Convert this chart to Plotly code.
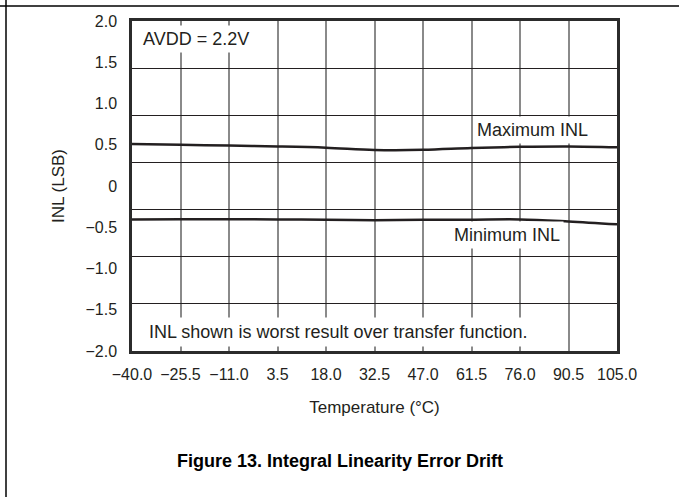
import plotly.graph_objects as go

# ---- data ----
temps = [-40.0, -25.5, -11.0, 3.5, 18.0, 32.5, 47.0, 61.5, 76.0, 90.5, 105.0]
max_inl = [0.51, 0.50, 0.49, 0.48, 0.465, 0.437, 0.438, 0.46, 0.475, 0.48, 0.47]
min_inl = [-0.405, -0.403, -0.403, -0.405, -0.41, -0.415, -0.41, -0.408, -0.405, -0.43, -0.465]

x_tickvals = [-40.0, -25.5, -11.0, 3.5, 18.0, 32.5, 47.0, 61.5, 76.0, 90.5, 105.0]
x_ticktext = ["\u221240.0", "\u221225.5", "\u221211.0", "3.5", "18.0", "32.5", "47.0", "61.5", "76.0", "90.5", "105.0"]
y_tickvals = [2.0, 1.5, 1.0, 0.5, 0.0, -0.5, -1.0, -1.5, -2.0]
y_ticktext = ["2.0", "1.5", "1.0", "0.5", "0", "\u22120.5", "\u22121.0", "\u22121.5", "\u22122.0"]
# the printed grid has 7 equal horizontal divisions (independent of the labels)
grid_rows = [1, 2, 3, 4, 5, 6]

W, H = 679, 497
ML, MR, MT, MB = 132, 62, 21, 146
PW, PH = W - ML - MR, H - MT - MB


def px_x(p):
    return (p - ML) / PW


def px_y(p):
    return (H - MB - p) / PH


FONT = "Liberation Sans, Arial, sans-serif"
TXT = "#231f20"

fig = go.Figure()
# carrier for the 7-division horizontal grid (no visible marks)
fig.add_trace(go.Scatter(x=[None], y=[None], yaxis="y2", mode="lines",
                         showlegend=False, hoverinfo="skip"))
fig.add_trace(go.Scatter(x=temps, y=max_inl, mode="lines",
                         line=dict(color=TXT, width=2.5, shape="spline", smoothing=1.0),
                         name="Maximum INL", showlegend=False))
fig.add_trace(go.Scatter(x=temps, y=min_inl, mode="lines",
                         line=dict(color=TXT, width=2.5, shape="spline", smoothing=1.0),
                         name="Minimum INL", showlegend=False))

ann_font = dict(family=FONT, size=18, color=TXT)
annotations = [
    dict(x=-38.0, y=1.78, xref="x", yref="y", text="AVDD = 2.2V", showarrow=False,
         xanchor="left", yanchor="middle", font=ann_font, bgcolor="white", borderpad=3),
    dict(x=79.6, y=0.68, xref="x", yref="y", text="Maximum INL", showarrow=False,
         xanchor="center", yanchor="middle", font=ann_font, bgcolor="white", borderpad=3),
    dict(x=72.1, y=-0.594, xref="x", yref="y", text="Minimum INL", showarrow=False,
         xanchor="center", yanchor="middle", font=ann_font, bgcolor="white", borderpad=3),
    dict(x=-36.5, y=-1.77, xref="x", yref="y",
         text="INL shown is worst result over transfer function.", showarrow=False,
         xanchor="left", yanchor="middle", font=ann_font, bgcolor="white", borderpad=4),
    dict(x=px_x(340), y=px_y(461), xref="paper", yref="paper",
         text="<b>Figure 13. Integral Linearity Error Drift</b>", showarrow=False,
         xanchor="center", yanchor="middle",
         font=dict(family=FONT, size=18, color="#000000")),
]

shapes = [
    # page frame lines
    dict(type="line", xref="paper", yref="paper", x0=px_x(0), x1=px_x(W), y0=px_y(6), y1=px_y(6),
         line=dict(color="#000000", width=1.5), layer="above"),
    dict(type="line", xref="paper", yref="paper", x0=px_x(6), x1=px_x(6), y0=px_y(0), y1=px_y(H),
         line=dict(color="#000000", width=1.5), layer="above"),
]

fig.update_layout(
    width=W, height=H,
    margin=dict(l=ML, r=MR, t=MT, b=MB, pad=0),
    paper_bgcolor="white", plot_bgcolor="white",
    showlegend=False,
    annotations=annotations,
    shapes=shapes,
    font=dict(family=FONT, color=TXT),
    yaxis2=dict(overlaying="y", anchor="x", side="right", range=[0, 7],
                tickvals=grid_rows, showticklabels=False, ticks="",
                showgrid=True, gridcolor="#231f20", gridwidth=1,
                zeroline=False, showline=False, fixedrange=True),
)

fig.update_xaxes(
    range=[-40, 105], tickvals=x_tickvals, ticktext=x_ticktext,
    showgrid=True, gridcolor="#8a8a8a", gridwidth=1.5,
    zeroline=False, showline=True, mirror=True, linecolor="#2b2b2b", linewidth=2.5,
    ticks="", ticklabelstandoff=7,
    tickfont=dict(family=FONT, size=16, color=TXT),
    title=dict(text="Temperature (\u00b0C)", font=dict(family=FONT, size=17, color=TXT), standoff=20),
)
fig.layout.yaxis.update(
    range=[-2, 2], tickvals=y_tickvals, ticktext=y_ticktext,
    showgrid=False,
    zeroline=False, showline=True, mirror=True, linecolor="#2b2b2b", linewidth=2.5,
    ticks="", ticklabelstandoff=9,
    tickfont=dict(family=FONT, size=16, color=TXT),
    title=dict(text="INL (LSB)", font=dict(family=FONT, size=17, color=TXT), standoff=17),
)

fig.write_html("out.html", config={"displayModeBar": False},
               post_script="document.body.style.margin='0';")
